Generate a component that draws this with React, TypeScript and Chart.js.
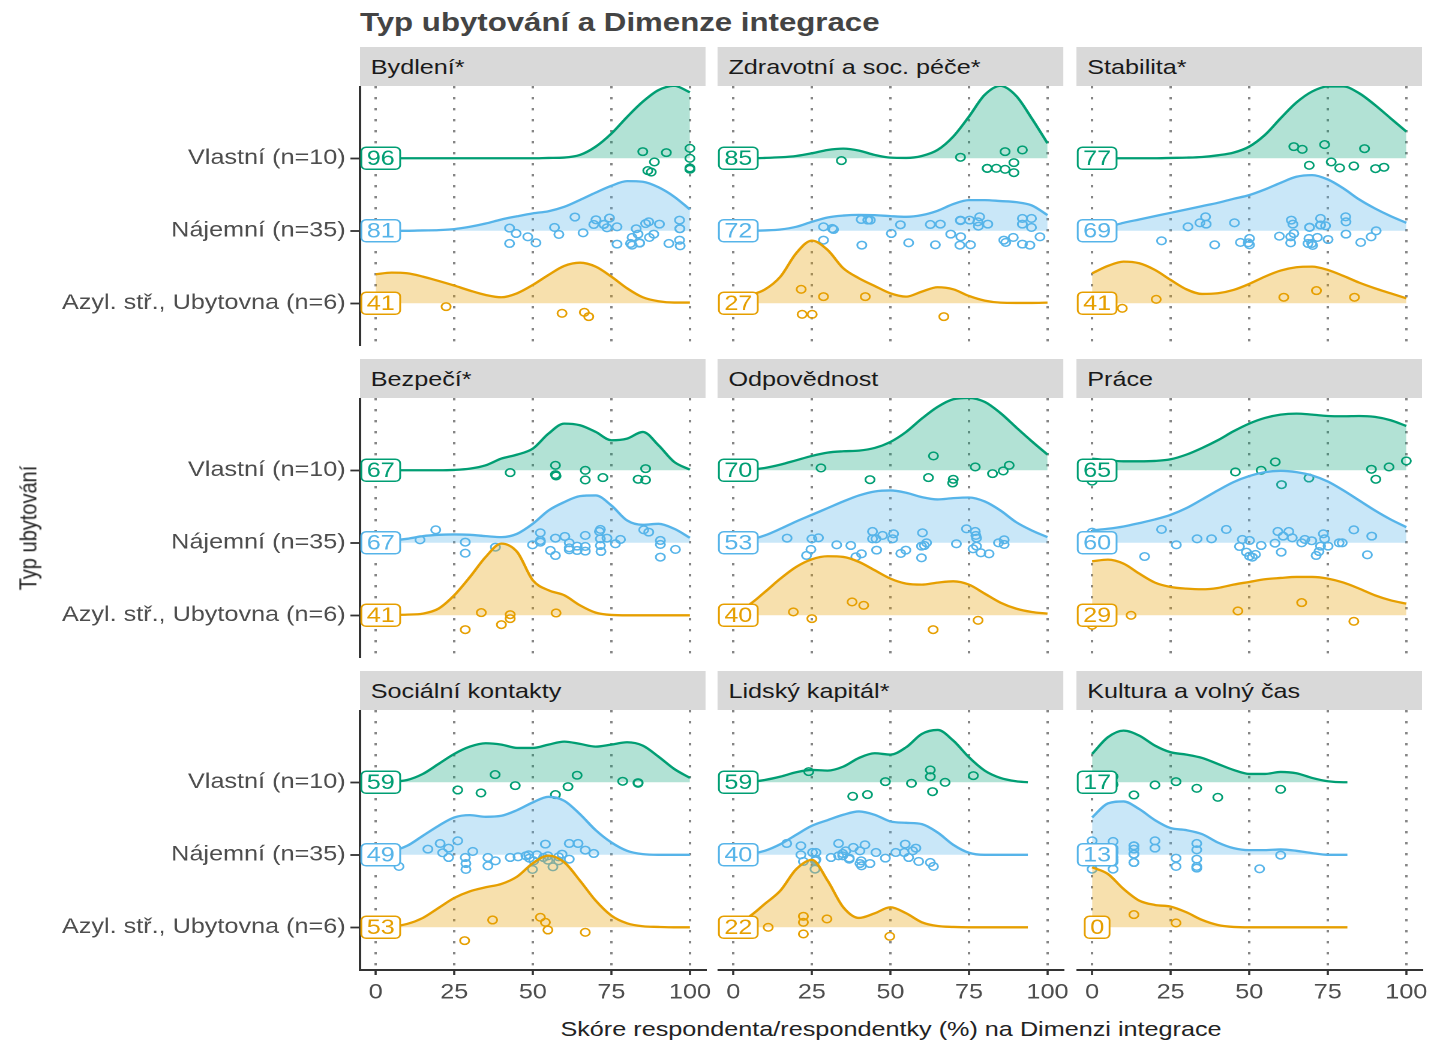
import React, { useEffect, useRef } from 'react';
import { Chart, registerables } from 'chart.js';
Chart.register(...registerables);

// ---------- data ----------
const groups = ['Azyl. stř., Ubytovna (n=6)', 'Nájemní (n=35)', 'Vlastní (n=10)'];
const dimensions = [
  'Bydlení*', 'Zdravotní a soc. péče*', 'Stabilita*',
  'Bezpečí*', 'Odpovědnost', 'Práce',
  'Sociální kontakty', 'Lidský kapitál*', 'Kultura a volný čas',
];
const xTicks = [0, 25, 50, 75, 100];
const yTicks = [1, 2, 3];

const medianVlastni = [96, 85, 77, 67, 70, 65, 59, 59, 17];
const medianNajemni = [81, 72, 69, 67, 53, 60, 49, 40, 13];
const medianAzyl = [41, 27, 41, 41, 40, 29, 53, 22, 0];

const xGridFull = [0, 5, 10, 15, 20, 25, 30, 35, 40, 45, 50, 55, 60, 65, 70, 75, 80, 85, 90, 95, 100];
const xGridLidsky = [0, 5, 10, 15, 20, 25, 30, 35, 40, 45, 50, 55, 60, 65, 70, 75, 80, 85, 90, 93.75];
const xGridKultura = [0, 5, 10, 15, 20, 25, 30, 35, 40, 45, 50, 55, 60, 65, 70, 75, 80, 81.25];

// Bydlení
const bydleniVlastniDens = [0, 0, 0, 0, 0, 0, 0, 0, 0, 0, 0, 0.005, 0.01, 0.046, 0.16, 0.34, 0.57, 0.78, 0.94, 1.0, 0.91];
const bydleniNajemniDens = [0, 0, 0, 0.005, 0.009, 0.023, 0.055, 0.1, 0.156, 0.2, 0.24, 0.27, 0.33, 0.425, 0.526, 0.62, 0.685, 0.676, 0.6, 0.47, 0.294];
const bydleniAzylDens = [0.4, 0.423, 0.414, 0.368, 0.308, 0.244, 0.175, 0.115, 0.083, 0.138, 0.253, 0.391, 0.515, 0.56, 0.506, 0.368, 0.207, 0.083, 0.028, 0.01, 0.01];
const bydleniVlastniScore = [85, 92.5, 88.7, 86.6, 87.7, 100, 100, 100, 100, 100];
const bydleniVlastniJit = [0.092, 0.078, -0.05, -0.17, -0.19, 0.138, 0, -0.133, -0.15, -0.15];
const bydleniNajemniScore = [42.6, 44.7, 42.6, 48.4, 51, 56.9, 58.3, 63.4, 66, 69.4, 70.1, 72.6, 73.6, 74.4, 76.8, 76.8, 81.1, 81.6, 83.5, 84, 82.9, 85.9, 86.9, 88.5, 87.1, 90.3, 93.3, 96.7, 96.8, 96.7, 96.9, 81.6, 96.8, 84, 72.6];
const bydleniNajemniJit = [0.037, -0.037, -0.175, -0.083, -0.166, 0.046, -0.05, 0.19, -0.028, 0.087, 0.152, 0.087, 0.041, 0.175, 0.055, -0.184, -0.175, -0.092, -0.046, -0.166, 0.028, 0.1, 0.124, -0.046, -0.092, 0.092, -0.175, 0.147, 0.028, -0.129, -0.207, -0.198, 0.03, -0.17, 0.09];
const bydleniAzylScore = [0, 1, 22.4, 59.3, 66.4, 67.8];
const bydleniAzylJit = [0.02, -0.05, -0.046, -0.138, -0.124, -0.184];

// Zdravotní a soc. péče
const zdraviVlastniDens = [0, 0, 0.005, 0.014, 0.032, 0.069, 0.115, 0.133, 0.106, 0.046, 0.009, 0.005, 0.032, 0.115, 0.3, 0.575, 0.874, 1.0, 0.862, 0.55, 0.207];
const zdraviNajemniDens = [0, 0, 0.005, 0.018, 0.055, 0.124, 0.184, 0.21, 0.22, 0.216, 0.202, 0.193, 0.216, 0.276, 0.368, 0.423, 0.423, 0.41, 0.395, 0.35, 0.216];
const zdraviAzylDens = [0.06, 0.11, 0.19, 0.368, 0.69, 0.864, 0.736, 0.483, 0.345, 0.239, 0.138, 0.092, 0.161, 0.221, 0.193, 0.101, 0.037, 0.009, 0.005, 0.005, 0.009];
const zdraviVlastniScore = [34.4, 72.3, 86.5, 92, 80.8, 80.8, 83.7, 86.5, 89.3, 89.3];
const zdraviVlastniJit = [-0.032, 0.014, 0.092, 0.115, -0.138, -0.14, -0.138, -0.152, -0.06, -0.198];
const zdraviNajemniScore = [28.7, 31.5, 31.9, 28.7, 40.7, 42.8, 43.6, 40.9, 50.3, 53.2, 55.8, 62.7, 65.9, 64.3, 69.2, 72.3, 72.4, 72.1, 75.5, 75.2, 78.4, 78, 81, 77.8, 86.1, 86.7, 89.1, 92, 94.9, 92, 94.9, 92, 94.4, 97.6, 72.3];
const zdraviNajemniJit = [0.055, 0.032, 0.018, -0.129, 0.156, 0.147, 0.147, -0.198, -0.037, 0.083, -0.166, 0.087, 0.092, -0.193, -0.046, 0.147, -0.083, -0.198, -0.193, 0.147, 0.193, 0.064, 0.092, 0.124, -0.129, -0.161, -0.092, 0.17, 0.17, 0.092, 0.046, -0.184, -0.198, -0.083, 0.14];
const zdraviAzylScore = [21.6, 28.7, 42, 21.9, 25.1, 67];
const zdraviAzylJit = [0.193, 0.092, 0.092, -0.152, -0.152, -0.184];

// Stabilita
const stabilitaVlastniDens = [0, 0, 0, 0, 0, 0.005, 0.009, 0.018, 0.041, 0.078, 0.161, 0.322, 0.552, 0.768, 0.92, 0.99, 0.99, 0.897, 0.736, 0.552, 0.368];
const stabilitaNajemniDens = [0.023, 0.055, 0.11, 0.156, 0.202, 0.248, 0.294, 0.34, 0.386, 0.441, 0.492, 0.57, 0.662, 0.745, 0.768, 0.708, 0.584, 0.432, 0.308, 0.202, 0.11];
const stabilitaAzylDens = [0.414, 0.515, 0.575, 0.552, 0.46, 0.322, 0.193, 0.129, 0.138, 0.184, 0.267, 0.368, 0.451, 0.497, 0.506, 0.46, 0.377, 0.285, 0.207, 0.138, 0.069];
const stabilitaVlastniScore = [64.2, 66.9, 74, 86.7, 69.1, 76.1, 78.8, 83.3, 90.2, 92.9];
const stabilitaVlastniJit = [0.161, 0.124, 0.189, 0.133, -0.097, -0.05, -0.133, -0.106, -0.143, -0.124];
const stabilitaNajemniScore = [22.1, 30.5, 34.3, 36.1, 36.3, 39, 45.3, 47.2, 50.1, 50.1, 49.7, 59.6, 63.4, 63.9, 64.2, 63.2, 69.2, 69, 69.9, 70.2, 71.7, 72.7, 72.7, 74.3, 75.1, 80.7, 80.8, 80.8, 85.5, 88.8, 90.4, 68.7, 63.2, 69.2, 72.7];
const stabilitaNajemniJit = [-0.138, 0.055, 0.11, 0.193, 0.092, -0.193, 0.11, -0.161, -0.106, -0.193, -0.166, -0.074, 0.147, 0.092, -0.037, -0.166, 0.046, -0.106, -0.175, -0.202, -0.092, 0.17, 0.078, 0.069, -0.12, 0.193, 0.124, -0.046, -0.161, -0.083, 0, -0.175, -0.083, 0.05, 0.08];
const stabilitaAzylScore = [2, 9.6, 20.4, 61, 71.4, 83.5];
const stabilitaAzylJit = [0, -0.069, 0.055, 0.083, 0.175, 0.083];

// Bezpečí
const bezpeciVlastniDens = [0, 0, 0, 0, 0, 0.005, 0.023, 0.069, 0.161, 0.216, 0.299, 0.506, 0.644, 0.621, 0.529, 0.414, 0.437, 0.529, 0.345, 0.115, 0.009];
const bezpeciNajemniDens = [0.018, 0.032, 0.055, 0.092, 0.11, 0.115, 0.11, 0.092, 0.078, 0.124, 0.262, 0.446, 0.561, 0.644, 0.653, 0.515, 0.308, 0.248, 0.262, 0.193, 0.069];
const bezpeciAzylDens = [0, 0.005, 0.009, 0.023, 0.092, 0.276, 0.529, 0.805, 0.989, 0.874, 0.483, 0.345, 0.276, 0.138, 0.037, 0.005, 0, 0, 0, 0, 0];
const bezpeciVlastniScore = [42.8, 57.2, 57.2, 57.4, 66.7, 66.7, 72.3, 85.9, 83.5, 85.9];
const bezpeciVlastniJit = [-0.032, 0.069, -0.06, -0.078, 0, -0.133, -0.101, 0.023, -0.124, -0.133];
const bezpeciNajemniScore = [14.1, 19.1, 28.5, 28.5, 38.1, 49.9, 52.4, 52.4, 55.6, 57.2, 57.2, 60.2, 61.6, 61.6, 64.1, 64.1, 66.7, 66.7, 66.7, 71.2, 71.5, 71.5, 71.7, 73.6, 76.3, 77.9, 85.3, 86.9, 90.6, 90.6, 90.6, 95.4, 71.5, 61.6, 52.4];
const bezpeciNajemniJit = [0.041, 0.179, 0.009, -0.143, -0.06, -0.028, 0.138, 0.009, -0.106, -0.175, 0.064, 0.087, 0, -0.097, -0.046, -0.106, 0.101, -0.05, -0.115, 0.156, 0.055, -0.037, -0.12, 0.064, -0.014, 0.046, 0.179, 0.147, 0.032, -0.023, -0.198, -0.092, 0.184, -0.069, 0.032];
const bezpeciAzylScore = [33.6, 28.5, 40, 42.8, 42.8, 57.4];
const bezpeciAzylJit = [0.037, -0.198, -0.129, -0.046, 0.009, 0.032];

// Odpovědnost
const odpovednostVlastniDens = [0.005, 0.009, 0.032, 0.078, 0.138, 0.198, 0.244, 0.262, 0.271, 0.308, 0.391, 0.529, 0.713, 0.874, 0.98, 0.998, 0.943, 0.79, 0.593, 0.4, 0.216];
const odpovednostNajemniDens = [0.023, 0.041, 0.101, 0.193, 0.294, 0.386, 0.478, 0.57, 0.653, 0.708, 0.722, 0.69, 0.63, 0.598, 0.616, 0.625, 0.57, 0.446, 0.285, 0.17, 0.078];
const odpovednostAzylDens = [0.07, 0.147, 0.32, 0.506, 0.667, 0.772, 0.814, 0.805, 0.736, 0.621, 0.506, 0.437, 0.423, 0.451, 0.469, 0.423, 0.299, 0.175, 0.092, 0.046, 0.023];
const odpovednostVlastniScore = [27.9, 43.5, 63.7, 62.1, 70, 69.8, 77, 82.5, 85.9, 87.8];
const odpovednostVlastniJit = [0.032, -0.129, 0.198, -0.101, -0.124, -0.175, 0.046, -0.046, -0.009, 0.069];
const odpovednostNajemniScore = [17.1, 25, 27.1, 24.7, 23.3, 32.9, 37.4, 39, 40.8, 44.3, 44.3, 45.6, 47.5, 51, 50.7, 53.3, 54.9, 59.9, 60.2, 60.8, 61.5, 71, 74.2, 77, 77.2, 77.4, 77.4, 76.3, 78.8, 81.4, 84.4, 86.2, 86.2, 45.4, 59.9];
const odpovednostNajemniJit = [0.064, 0.055, 0.069, -0.092, -0.175, -0.028, -0.037, -0.193, -0.152, 0.156, 0.055, -0.101, 0.101, 0.124, 0.055, -0.147, -0.101, -0.207, 0.138, -0.037, 0, -0.014, 0.193, 0.156, 0.101, 0.064, -0.046, -0.083, -0.138, -0.152, 0, 0.041, -0.023, 0.055, -0.046];
const odpovednostAzylScore = [19.1, 25, 37.8, 41.5, 63.6, 77.9];
const odpovednostAzylJit = [0.046, -0.046, 0.184, 0.138, -0.198, -0.069];

// Práce
const praceVlastniDens = [0.161, 0.138, 0.124, 0.124, 0.129, 0.152, 0.216, 0.308, 0.414, 0.538, 0.644, 0.722, 0.768, 0.782, 0.768, 0.749, 0.745, 0.749, 0.736, 0.69, 0.611];
const praceNajemniDens = [0.17, 0.193, 0.225, 0.271, 0.322, 0.386, 0.478, 0.598, 0.722, 0.837, 0.92, 0.975, 0.993, 0.975, 0.929, 0.846, 0.722, 0.584, 0.446, 0.322, 0.216];
const praceAzylDens = [0.745, 0.768, 0.713, 0.575, 0.451, 0.391, 0.368, 0.359, 0.377, 0.423, 0.46, 0.497, 0.515, 0.529, 0.529, 0.506, 0.451, 0.368, 0.276, 0.207, 0.161];
const praceVlastniScore = [0, 45.6, 53.8, 58.3, 60.3, 69, 88.9, 90.3, 94.5, 100];
const praceVlastniJit = [-0.15, -0.023, 0, 0.115, -0.198, -0.106, 0.014, -0.124, 0.046, 0.129];
const praceNajemniScore = [0, 16.7, 22.1, 26.8, 33.4, 38, 42.7, 46.9, 47.8, 49.1, 50.1, 50.1, 51, 52, 53.8, 58.2, 59.1, 60.2, 60.8, 62.6, 63.7, 66.7, 67.7, 69.9, 71.3, 72.2, 72.7, 73.6, 74, 75.1, 78.6, 79.6, 83.3, 87.6, 89];
const praceNajemniJit = [0.147, -0.189, 0.184, -0.028, 0.055, 0.055, 0.184, -0.051, 0.046, -0.129, 0.032, -0.184, -0.198, -0.161, -0.037, -0.005, 0.156, -0.129, 0.092, 0.156, 0.069, 0, 0.046, 0.028, -0.175, -0.12, -0.046, 0.124, 0.055, -0.046, 0, 0, 0.179, -0.166, 0.092];
const praceAzylScore = [0, 0, 12.4, 46.4, 66.7, 83.3];
const praceAzylJit = [-0.138, 0.05, 0, 0.06, 0.175, -0.083];

// Sociální kontakty
const socialniVlastniDens = [0.005, 0.009, 0.032, 0.115, 0.253, 0.391, 0.492, 0.538, 0.52, 0.474, 0.474, 0.52, 0.561, 0.529, 0.492, 0.52, 0.552, 0.506, 0.354, 0.184, 0.06];
const socialniNajemniDens = [0.03, 0.05, 0.124, 0.262, 0.4, 0.515, 0.547, 0.524, 0.538, 0.616, 0.722, 0.8, 0.745, 0.561, 0.34, 0.17, 0.055, 0.009, 0, 0, 0];
const socialniAzylDens = [0, 0.009, 0.046, 0.129, 0.267, 0.405, 0.497, 0.552, 0.598, 0.699, 0.883, 0.989, 0.897, 0.644, 0.368, 0.161, 0.055, 0.014, 0.005, 0, 0];
const socialniVlastniScore = [38, 26.1, 33.5, 44.4, 57.2, 61.2, 64.1, 78.6, 83.5, 83.5];
const socialniVlastniJit = [0.106, -0.106, -0.147, -0.046, -0.17, -0.06, 0.097, 0.014, -0.014, -0.005];
const socialniNajemniScore = [7.4, 16.6, 20.5, 23.2, 21.3, 23.2, 26.1, 28.5, 28.7, 28.7, 30.9, 35.7, 35.7, 38.1, 42.8, 45.3, 48.7, 48.9, 49.9, 51.3, 54, 54.8, 54.8, 56.4, 58.2, 59.3, 61.6, 61.6, 64.4, 66.7, 69.4, 53.4, 58.2, 47.8, 50.3];
const socialniNajemniJit = [-0.161, 0.078, 0.156, 0.092, 0.028, -0.037, 0.193, -0.037, -0.12, -0.202, 0.046, -0.037, -0.152, -0.083, -0.037, -0.028, 0, -0.046, -0.202, 0, 0.147, -0.014, -0.074, -0.166, -0.028, 0.009, -0.06, 0.156, 0.156, 0.064, 0.018, -0.037, -0.083, -0.014, -0.083];
const socialniAzylScore = [28.3, 37.2, 52.4, 54, 54.8, 66.7];
const socialniAzylJit = [-0.184, 0.101, 0.138, 0.069, -0.037, -0.069];

// Lidský kapitál
const lidskyVlastniDens = [0, 0.005, 0.032, 0.078, 0.138, 0.17, 0.161, 0.216, 0.336, 0.4, 0.382, 0.483, 0.667, 0.722, 0.575, 0.345, 0.161, 0.06, 0.014, 0];
const lidskyNajemniDens = [0, 0.009, 0.055, 0.147, 0.276, 0.4, 0.478, 0.552, 0.598, 0.552, 0.46, 0.441, 0.423, 0.308, 0.138, 0.028, 0, 0, 0, 0];
const lidskyAzylDens = [0.06, 0.147, 0.322, 0.506, 0.8, 0.93, 0.644, 0.276, 0.129, 0.193, 0.276, 0.193, 0.069, 0.018, 0.005, 0, 0, 0, 0, 0];
const lidskyVlastniScore = [24, 38, 42.7, 48.4, 56.7, 62.7, 62.7, 63.4, 67.4, 76.4];
const lidskyVlastniJit = [0.147, -0.193, -0.17, 0.009, -0.014, 0.17, 0.078, -0.129, 0, 0.092];
const lidskyNajemniScore = [17, 21.5, 21.5, 22.3, 25.2, 26.3, 26.3, 26, 31.1, 33.5, 33.5, 34.8, 35.8, 36.9, 38.2, 40.3, 40.7, 40.8, 41.9, 43.5, 45.4, 48.4, 51.7, 54.4, 54.7, 55.8, 57.1, 58.1, 59, 62.7, 63.7, 36.9, 34.8, 40.3, 26.1];
const lidskyNajemniJit = [0.156, 0.124, 0, -0.092, 0.032, 0.032, -0.064, -0.198, -0.037, 0.156, -0.014, -0.014, 0.055, -0.046, 0.101, 0.055, -0.083, -0.152, 0.138, -0.12, 0.032, -0.046, 0.032, 0.032, 0.147, -0.037, 0.055, 0.092, -0.092, -0.106, -0.161, -0.06, 0.018, -0.12, -0.083];
const lidskyAzylScore = [11.1, 22.3, 22.3, 22.3, 29.8, 49.8];
const lidskyAzylJit = [0, 0.152, 0.069, -0.092, 0.115, -0.124];

// Kultura a volný čas
const kulturaVlastniDens = [0.391, 0.621, 0.713, 0.644, 0.506, 0.414, 0.382, 0.336, 0.253, 0.17, 0.115, 0.115, 0.143, 0.124, 0.06, 0.014, 0, 0];
const kulturaNajemniDens = [0.515, 0.708, 0.736, 0.63, 0.478, 0.368, 0.34, 0.285, 0.17, 0.092, 0.064, 0.064, 0.074, 0.055, 0.023, 0, 0, 0];
const kulturaAzylDens = [0.828, 0.736, 0.529, 0.368, 0.308, 0.285, 0.207, 0.101, 0.032, 0.005, 0, 0, 0, 0, 0, 0, 0, 0];
const kulturaVlastniScore = [0, 0, 6.67, 6.67, 13.3, 20, 26.7, 33.3, 40, 60];
const kulturaVlastniJit = [0.05, -0.06, 0.08, -0.03, -0.175, -0.037, 0.009, -0.083, -0.207, -0.097];
const kulturaNajemniScore = [0, 0, 6.67, 6.67, 13.3, 13.3, 13.3, 13.3, 20, 20, 26.7, 26.7, 33.3, 33.3, 33.3, 33.3, 33.3, 53.3, 60, 0, 0, 0, 0, 0, 0, 0, 6.67, 6.67, 6.67, 6.67, 6.67, 6.67, 13.3, 13.3, 13.3];
const kulturaNajemniJit = [0.193, -0.198, 0.184, -0.198, 0.124, 0.078, 0.009, -0.106, 0.193, 0.092, -0.046, -0.161, 0.156, 0.069, -0.06, -0.161, -0.184, -0.193, -0.005, 0.08, -0.05, 0.02, -0.09, 0.1, -0.02, 0.06, 0.09, -0.07, 0.03, -0.1, 0.05, -0.03, 0.124, 0.009, -0.106];
const kulturaAzylScore = [0, 0, 0, 0, 13.3, 26.7];
const kulturaAzylJit = [0.05, -0.04, 0.02, -0.07, 0.175, 0.06];

// ---------- styling / layout ----------
const SX = 1.2; // the figure is horizontally stretched
const FIG_W = 1430 / SX;
const FONT = '"Liberation Sans", Arial, Helvetica, sans-serif';
const groupColors = ['#E69F00', '#56B4E9', '#009E73'];
const groupFills = ['rgba(230,159,0,0.32)', 'rgba(86,180,233,0.32)', 'rgba(0,158,115,0.30)'];
const colLefts = [300, 598, 897];
const rowTops = [86, 398, 710];
const PANEL_W = 288;
const PANEL_H = 260;
const STRIP_H = 39;
const LABEL_X = 1.6;
const RIGHT_PAD = 20;

const panels = [
  { grid: xGridFull, dens: [bydleniAzylDens, bydleniNajemniDens, bydleniVlastniDens], score: [bydleniAzylScore, bydleniNajemniScore, bydleniVlastniScore], jit: [bydleniAzylJit, bydleniNajemniJit, bydleniVlastniJit] },
  { grid: xGridFull, dens: [zdraviAzylDens, zdraviNajemniDens, zdraviVlastniDens], score: [zdraviAzylScore, zdraviNajemniScore, zdraviVlastniScore], jit: [zdraviAzylJit, zdraviNajemniJit, zdraviVlastniJit] },
  { grid: xGridFull, dens: [stabilitaAzylDens, stabilitaNajemniDens, stabilitaVlastniDens], score: [stabilitaAzylScore, stabilitaNajemniScore, stabilitaVlastniScore], jit: [stabilitaAzylJit, stabilitaNajemniJit, stabilitaVlastniJit] },
  { grid: xGridFull, dens: [bezpeciAzylDens, bezpeciNajemniDens, bezpeciVlastniDens], score: [bezpeciAzylScore, bezpeciNajemniScore, bezpeciVlastniScore], jit: [bezpeciAzylJit, bezpeciNajemniJit, bezpeciVlastniJit] },
  { grid: xGridFull, dens: [odpovednostAzylDens, odpovednostNajemniDens, odpovednostVlastniDens], score: [odpovednostAzylScore, odpovednostNajemniScore, odpovednostVlastniScore], jit: [odpovednostAzylJit, odpovednostNajemniJit, odpovednostVlastniJit] },
  { grid: xGridFull, dens: [praceAzylDens, praceNajemniDens, praceVlastniDens], score: [praceAzylScore, praceNajemniScore, praceVlastniScore], jit: [praceAzylJit, praceNajemniJit, praceVlastniJit] },
  { grid: xGridFull, dens: [socialniAzylDens, socialniNajemniDens, socialniVlastniDens], score: [socialniAzylScore, socialniNajemniScore, socialniVlastniScore], jit: [socialniAzylJit, socialniNajemniJit, socialniVlastniJit] },
  { grid: xGridLidsky, dens: [lidskyAzylDens, lidskyNajemniDens, lidskyVlastniDens], score: [lidskyAzylScore, lidskyNajemniScore, lidskyVlastniScore], jit: [lidskyAzylJit, lidskyNajemniJit, lidskyVlastniJit] },
  { grid: xGridKultura, dens: [kulturaAzylDens, kulturaNajemniDens, kulturaVlastniDens], score: [kulturaAzylScore, kulturaNajemniScore, kulturaVlastniScore], jit: [kulturaAzylJit, kulturaNajemniJit, kulturaVlastniJit] },
];

const medianLabelPlugin = {
  id: 'medianLabels',
  afterDatasetsDraw(chart: any, _args: any, opts: any) {
    const { ctx } = chart;
    const xs = chart.scales.x;
    const ys = chart.scales.y;
    const meds: number[] = opts.medians || [];
    ctx.save();
    ctx.font = `21px ${FONT}`;
    ctx.textAlign = 'center';
    ctx.textBaseline = 'middle';
    meds.forEach((m, g) => {
      const cx = xs.getPixelForValue(LABEL_X);
      const cy = ys.getPixelForValue(yTicks[g]);
      const text = String(m);
      const tw = ctx.measureText(text).width;
      const w = tw + 9;
      const h = 22;
      ctx.beginPath();
      ctx.roundRect(cx - w / 2, cy - h / 2, w, h, 4);
      ctx.fillStyle = '#ffffff';
      ctx.fill();
      ctx.lineWidth = 1.5;
      ctx.strokeStyle = groupColors[g];
      ctx.stroke();
      ctx.fillStyle = groupColors[g];
      ctx.fillText(text, cx, cy + 1);
    });
    ctx.restore();
  },
};

function Panel({ index }: { index: number }) {
  const ref = useRef<HTMLCanvasElement | null>(null);
  const col = index % 3;
  const row = Math.floor(index / 3);
  const showY = col === 0;
  const showX = row === 2;
  const left = showY ? 0 : colLefts[col];
  const padRight = showX ? RIGHT_PAD : 0;
  const width = (showY ? colLefts[0] + PANEL_W : PANEL_W) + padRight;
  const height = PANEL_H + (showX ? 40 : 0);

  useEffect(() => {
    const p = panels[index];
    const medians = [medianAzyl[index], medianNajemni[index], medianVlastni[index]];
    const datasets: any[] = [];
    for (let g = 2; g >= 0; g--) {
      const base = yTicks[g];
      datasets.push({
        type: 'line',
        data: p.grid.map((xv, i) => ({ x: xv, y: base + p.dens[g][i] })),
        borderColor: groupColors[g],
        backgroundColor: groupFills[g],
        borderWidth: 2.3,
        fill: { value: base },
        pointRadius: 0,
        cubicInterpolationMode: 'monotone',
        order: 2 * (g + 1),
      });
      datasets.push({
        type: 'scatter',
        data: p.score[g].map((s, i) => ({ x: s, y: base + p.jit[g][i] })),
        showLine: false,
        pointRadius: 3.8,
        pointBorderWidth: 1.5,
        pointBackgroundColor: 'rgba(255,255,255,0)',
        pointBorderColor: groupColors[g],
        borderColor: groupColors[g],
        backgroundColor: 'rgba(255,255,255,0)',
        order: 2 * (g + 1) - 1,
      });
    }
    const chart = new Chart(ref.current as HTMLCanvasElement, {
      type: 'scatter',
      data: { datasets },
      options: {
        animation: false,
        responsive: true,
        maintainAspectRatio: false,
        devicePixelRatio: 2,
        events: [],
        layout: { padding: { left: 0, top: 0, bottom: 0, right: padRight }, autoPadding: false },
        plugins: {
          legend: { display: false },
          tooltip: { enabled: false },
          filler: { drawTime: 'beforeDatasetDraw' },
          medianLabels: { medians },
        } as any,
        scales: {
          x: {
            type: 'linear',
            min: -5,
            max: 105,
            afterBuildTicks: (s: any) => { s.ticks = xTicks.map((v) => ({ value: v })); },
            afterFit: (s: any) => { s.height = showX ? 40 : 0; s.paddingLeft = 0; s.paddingRight = 0; },
            grid: {
              display: true,
              drawOnChartArea: true,
              color: '#858585',
              lineWidth: 2,
              drawTicks: showX,
              tickLength: 5,
              tickColor: '#333333',
              tickWidth: 1.8,
              tickBorderDash: [],
            } as any,
            border: { display: showX, color: '#333333', width: 2, dash: [2.4, 8.6] },
            ticks: {
              display: showX,
              autoSkip: false,
              maxRotation: 0,
              padding: 5,
              color: '#4d4d4d',
              font: { family: FONT, size: 21 },
            },
          },
          y: {
            type: 'linear',
            min: 0.411,
            max: 3.997,
            display: showY,
            afterBuildTicks: (s: any) => { s.ticks = yTicks.map((v) => ({ value: v })); },
            afterFit: (s: any) => { s.width = showY ? colLefts[0] : 0; s.paddingTop = 0; s.paddingBottom = 0; },
            grid: {
              display: true,
              drawOnChartArea: false,
              drawTicks: true,
              tickLength: 8,
              tickColor: '#333333',
              tickWidth: 1.8,
            },
            border: { display: true, color: '#333333', width: 2 },
            ticks: {
              autoSkip: false,
              padding: 4,
              color: '#4d4d4d',
              font: { family: FONT, size: 21 },
              callback: (v: any) => groups[Math.round(Number(v)) - 1],
            },
          },
        },
      },
      plugins: [medianLabelPlugin as any],
    });
    return () => chart.destroy();
  }, [index]);

  return (
    <div style={{ position: 'absolute', left, top: rowTops[row], width, height }}>
      <canvas ref={ref} />
    </div>
  );
}

export default function App() {
  return (
    <div
      style={{
        position: 'absolute',
        left: 0,
        top: 0,
        width: FIG_W,
        height: 1040,
        background: '#ffffff',
        transform: `scaleX(${SX})`,
        transformOrigin: '0 0',
        fontFamily: FONT,
        overflow: 'hidden',
      }}
    >
      <div style={{ position: 'absolute', left: colLefts[0], top: 9, fontSize: 26, lineHeight: '26px', fontWeight: 'bold', color: '#444444', whiteSpace: 'nowrap' }}>
        Typ ubytování a Dimenze integrace
      </div>
      {dimensions.map((d, i) => (
        <div
          key={'s' + i}
          style={{
            position: 'absolute',
            left: colLefts[i % 3],
            top: rowTops[Math.floor(i / 3)] - STRIP_H,
            width: PANEL_W,
            height: STRIP_H,
            background: '#d9d9d9',
            color: '#1a1a1a',
            fontSize: 21,
            lineHeight: STRIP_H + 'px',
            paddingLeft: 9,
            boxSizing: 'border-box',
            whiteSpace: 'nowrap',
          }}
        >
          {d}
        </div>
      ))}
      {dimensions.map((_, i) => (
        <Panel key={'p' + i} index={i} />
      ))}
      <div
        style={{
          position: 'absolute',
          left: 23.3,
          top: 528,
          transform: 'translate(-50%, -50%) rotate(-90deg)',
          fontSize: 20,
          lineHeight: '20px',
          color: '#222222',
          whiteSpace: 'nowrap',
        }}
      >
        Typ ubytování
      </div>
      <div
        style={{
          position: 'absolute',
          left: 742.5,
          top: 1017.5,
          transform: 'translateX(-50%)',
          fontSize: 21,
          lineHeight: '21px',
          color: '#222222',
          whiteSpace: 'nowrap',
        }}
      >
        Skóre respondenta/respondentky (%) na Dimenzi integrace
      </div>
    </div>
  );
}
